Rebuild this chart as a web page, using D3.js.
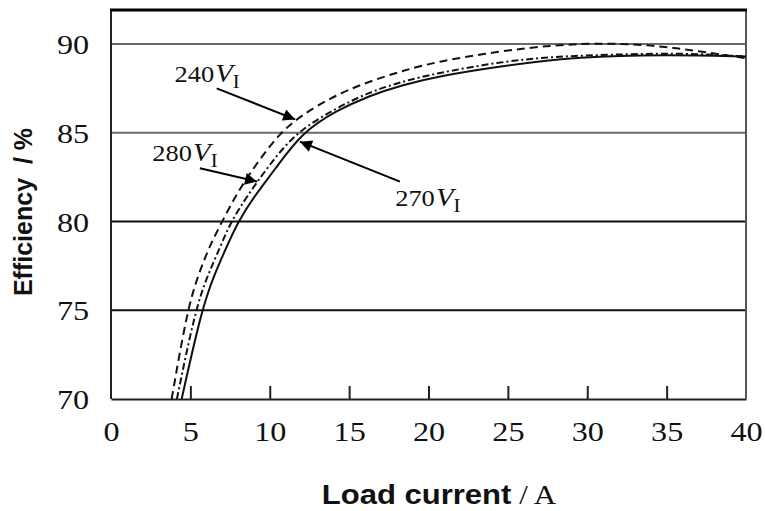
<!DOCTYPE html>
<html>
<head>
<meta charset="utf-8">
<script src="https://cdn.jsdelivr.net/npm/d3@7"></script>
<style>
  body { margin: 0; background: #fff; }
  svg { display: block; }
</style>
</head>
<body>
<div id="chart"></div>
<script>
// values: [load current A, efficiency %]
const curve240 = [[3.82, 70], [4.8, 75], [5.5, 77], [6.2, 78.6], [7.0, 80], [8.0, 81.7], [9.2, 83.3], [10.6, 84.95],
  [12.0, 86.0], [14.2, 87.15], [16.3, 87.9], [18.4, 88.5], [20.5, 89.0], [24.5, 89.6], [28, 89.95], [31, 90.05],
  [34, 89.95], [37, 89.6], [40, 89.2]];
const curve280 = [[4.15, 70], [5.3, 75], [6.1, 77], [6.9, 78.6], [7.5, 79.9], [8.55, 81.4], [9.9, 83.1], [11.6, 85],
  [14.2, 86.4], [16.3, 87.3], [18.4, 87.9], [20.5, 88.35], [24.5, 89.0], [28, 89.3], [31.6, 89.4], [35.8, 89.5], [40, 89.3]];
const curve270 = [[4.45, 70], [5.7, 75], [6.5, 77], [7.3, 78.6], [7.95, 79.9], [9.0, 81.4], [10.3, 82.9], [12.0, 85],
  [14.2, 86.25], [16.3, 87.1], [18.4, 87.7], [20.5, 88.16], [24.5, 88.75], [29.5, 89.3], [35, 89.4], [40, 89.3]];
const xTicks = [0, 5, 10, 15, 20, 25, 30, 35, 40];
const yTicks = [70, 75, 80, 85, 90];
const seriesNames = ['240', '280', '270'];
// label anchor and arrow (from -> tip) in data units
const labelAt = [[4.0, 87.85], [2.6, 83.4], [17.9, 80.85]];
const arrowFrom = [[6.66, 87.5], [5.6, 83.0], [18.2, 82.25]];
const arrowTip = [[11.6, 85.75], [9.2, 82.25], [11.9, 84.5]];

const W = 765, H = 511;
const margin = {top: 10, right: 19, bottom: 112, left: 111};
const width = W - margin.left - margin.right;
const height = H - margin.top - margin.bottom;
const sx = 1.15; // the source picture is stretched sideways

const svg = d3.select('#chart').append('svg').attr('width', W).attr('height', H);
svg.append('defs').append('marker').attr('id', 'head')
  .attr('viewBox', '0 0 10 10').attr('refX', 10).attr('refY', 5)
  .attr('markerWidth', 7.5).attr('markerHeight', 6).attr('markerUnits', 'strokeWidth')
  .attr('orient', 'auto')
  .append('path').attr('d', 'M0,0L10,5L0,10z').attr('fill', '#000');

const g = svg.append('g').attr('transform', `translate(${margin.left},${margin.top})`);

const x = d3.scaleLinear().domain([0, 40]).range([0, width]);
const y = d3.scaleLinear().domain([70, 70 + height / 17.75]).range([height, 0]);

// grid lines
g.append('g').selectAll('line').data(yTicks.filter(d => d > 70)).enter().append('line')
  .attr('x1', 0).attr('x2', width).attr('y1', d => y(d)).attr('y2', d => y(d))
  .attr('stroke', d => d >= 85 ? '#6a6a6a' : '#111').attr('stroke-width', 2);

// axes
const xAxis = g.append('g').attr('transform', `translate(0,${height})`)
  .call(d3.axisBottom(x).tickValues(xTicks).tickSizeInner(-13).tickSizeOuter(0).tickPadding(22));
xAxis.select('.domain').attr('stroke', '#222').attr('stroke-width', 2);
xAxis.selectAll('.tick line').attr('stroke', '#222').attr('stroke-width', 2);
xAxis.selectAll('.tick line').filter(d => d === 0 || d === 40).remove();
xAxis.selectAll('text').attr('font-family', '"Liberation Serif", serif').attr('font-size', 28)
  .attr('fill', '#111').attr('transform', `scale(${sx},1)`);

const yAxis = g.append('g')
  .call(d3.axisLeft(y).tickValues(yTicks).tickSize(0).tickPadding(19));
yAxis.select('.domain').remove();
yAxis.selectAll('text').attr('font-family', '"Liberation Serif", serif').attr('font-size', 28)
  .attr('fill', '#111').attr('dy', '0.34em').attr('transform', `scale(${sx},1)`);

// frame
g.append('line').attr('x1', 0).attr('x2', 0).attr('y1', 0).attr('y2', height).attr('stroke', '#222').attr('stroke-width', 2);
g.append('line').attr('x1', width).attr('x2', width).attr('y1', 0).attr('y2', height).attr('stroke', '#555').attr('stroke-width', 2);
g.append('line').attr('x1', -1).attr('x2', width + 1).attr('y1', 0).attr('y2', 0).attr('stroke', '#000').attr('stroke-width', 3);

// curves
const line = d3.line().x(d => x(d[0])).y(d => y(d[1])).curve(d3.curveBasis);
const curves = [curve240, curve280, curve270];
const dashes = ['8,5', '7,3,2,3', null];
const plot = g.append('g');
curves.forEach((c, i) => {
  plot.append('path').datum(c).attr('fill', 'none').attr('stroke', '#111')
    .attr('stroke-width', 2).attr('stroke-dasharray', dashes[i]).attr('d', line);
});

// labels and arrows
seriesNames.forEach((name, i) => {
  g.append('line').attr('x1', x(arrowFrom[i][0])).attr('y1', y(arrowFrom[i][1]))
    .attr('x2', x(arrowTip[i][0])).attr('y2', y(arrowTip[i][1]))
    .attr('stroke', '#000').attr('stroke-width', 2).attr('marker-end', 'url(#head)');
  const t = g.append('text')
    .attr('transform', `translate(${x(labelAt[i][0])},${y(labelAt[i][1])}) scale(${sx},1)`)
    .attr('font-family', '"Liberation Serif", serif').attr('font-size', 23).attr('fill', '#111');
  t.append('tspan').text(name);
  t.append('tspan').attr('font-style', 'italic').attr('font-size', 25).attr('dx', 1).text('V');
  t.append('tspan').attr('font-size', 18).attr('dy', 6).text('I');
});

// axis titles
const xt = svg.append('text')
  .attr('transform', `translate(439,${H - 7}) scale(${sx},1)`)
  .attr('text-anchor', 'middle').attr('fill', '#111').attr('font-size', 27);
xt.append('tspan').attr('font-family', '"Liberation Sans", Arial, sans-serif').attr('font-weight', 'bold').text('Load current');
xt.append('tspan').attr('font-family', '"Liberation Serif", serif').text(' / A');

svg.append('text')
  .attr('transform', 'translate(32,212) rotate(-90)')
  .attr('text-anchor', 'middle').attr('fill', '#111').attr('font-size', 25)
  .attr('font-family', '"Liberation Sans", Arial, sans-serif').attr('font-weight', 'bold')
  .attr('xml:space', 'preserve')
  .text('Efficiency  / %');
</script>
</body>
</html>
